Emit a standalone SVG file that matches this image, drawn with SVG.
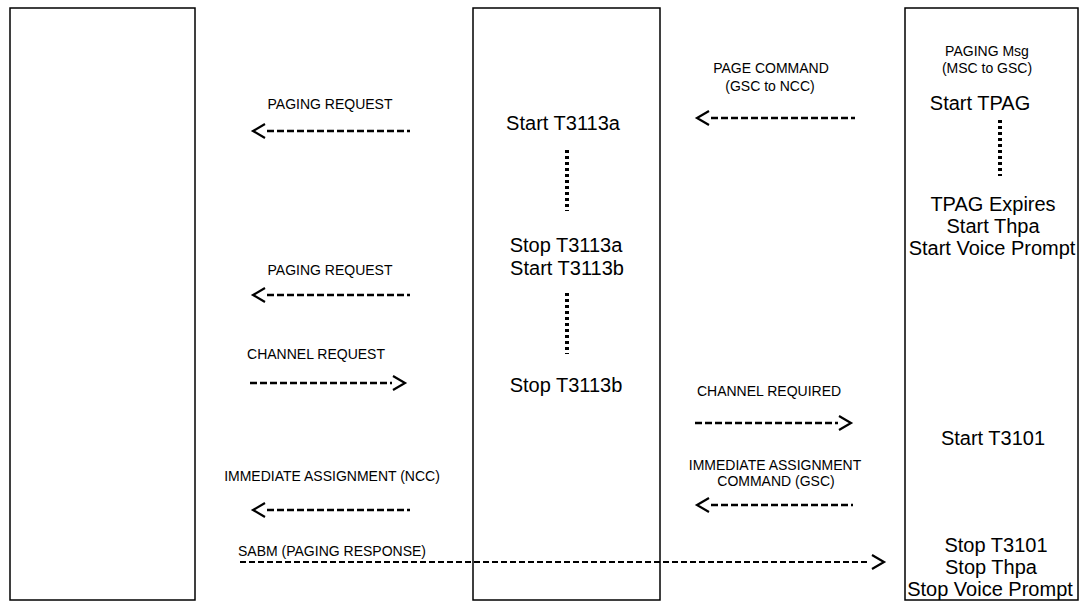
<svg xmlns="http://www.w3.org/2000/svg" width="1084" height="606" viewBox="0 0 1084 606">
<style>
.box{fill:#fff;stroke:#000;stroke-width:1.5}
.s{font-family:"Liberation Sans",Arial,sans-serif;font-size:14px;fill:#000;text-anchor:middle}
.l{font-family:"Liberation Sans",Arial,sans-serif;font-size:20px;fill:#000;text-anchor:middle}
.d{stroke:#000;stroke-width:2.5;stroke-dasharray:7 3;fill:none}
.sd{stroke:#000;stroke-width:2;stroke-dasharray:6 3;fill:none}
.h{stroke:#000;stroke-width:2.2;fill:none}
.dot{stroke:#000;stroke-width:4;stroke-dasharray:3 3;fill:none}
</style>
<rect width="1084" height="606" fill="#fff"/>
<g id="ms">
<rect class="box" x="10" y="8" width="185" height="592"/>
<text class="s" x="330" y="109">PAGING REQUEST</text>
<text class="s" x="330" y="275">PAGING REQUEST</text>
<text class="s" x="316" y="359">CHANNEL REQUEST</text>
<text class="s" x="332" y="481">IMMEDIATE ASSIGNMENT (NCC)</text>
<text class="s" x="238" y="556" style="text-anchor:start">SABM (PAGING RESPONSE)</text>
</g>
<g id="ncc">
<rect class="box" x="473" y="8" width="187" height="592"/>
<text class="l" x="563" y="130">Start T3113a</text>
<line class="dot" x1="567" y1="150" x2="567" y2="211"/>
<text class="l" x="566" y="252">Stop T3113a</text>
<text class="l" x="567" y="275">Start T3113b</text>
<line class="dot" x1="567" y1="293" x2="567" y2="354"/>
<text class="l" x="566" y="392">Stop T3113b</text>
<text class="s" x="771" y="73">PAGE COMMAND</text>
<text class="s" x="770" y="91">(GSC to NCC)</text>
<text class="s" x="769" y="396">CHANNEL REQUIRED</text>
<text class="s" x="775" y="470">IMMEDIATE ASSIGNMENT</text>
<text class="s" x="776" y="486">COMMAND (GSC)</text>
</g>
<g id="gsc">
<rect class="box" x="905" y="8" width="173" height="592"/>
<text class="s" x="987" y="56">PAGING Msg</text>
<text class="s" x="987" y="73">(MSC to GSC)</text>
<text class="l" x="980" y="110">Start TPAG</text>
<line class="dot" x1="1000" y1="120" x2="1000" y2="176"/>
<text class="l" x="993" y="211">TPAG Expires</text>
<text class="l" x="993" y="233">Start Thpa</text>
<text class="l" x="992" y="255">Start Voice Prompt</text>
<text class="l" x="993" y="445">Start T3101</text>
<text class="l" x="996" y="552">Stop T3101</text>
<text class="l" x="991" y="574">Stop Thpa</text>
<text class="l" x="990" y="596">Stop Voice Prompt</text>
</g>
<g id="connectors">
<line class="d" x1="267" y1="131" x2="410" y2="131"/>
<polyline class="h" points="265,124 253,131 265,138"/>
<line class="d" x1="267" y1="295" x2="410" y2="295"/>
<polyline class="h" points="265,288 253,295 265,302"/>
<line class="d" x1="250" y1="383" x2="392" y2="383"/>
<polyline class="h" points="393,376 405,383 393,390"/>
<line class="d" x1="267" y1="510" x2="410" y2="510"/>
<polyline class="h" points="265,503 253,510 265,517"/>
<line class="d" x1="711" y1="118" x2="855" y2="118"/>
<polyline class="h" points="709,111 697,118 709,125"/>
<line class="d" x1="695" y1="423" x2="838" y2="423"/>
<polyline class="h" points="839,416 851,423 839,430"/>
<line class="d" x1="711" y1="505" x2="853" y2="505"/>
<polyline class="h" points="709,498 697,505 709,512"/>
<line class="sd" x1="240" y1="562" x2="870" y2="562"/>
<polyline class="h" points="872,555 884,562 872,569"/>
</g>
</svg>
